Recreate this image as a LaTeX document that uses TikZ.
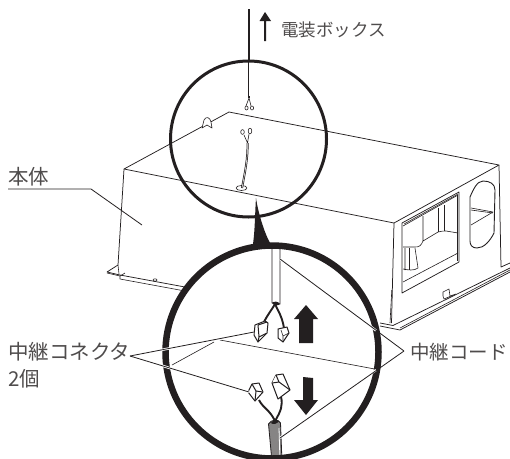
\documentclass[tikz,border=0pt]{standalone}
\usepackage{fontspec}
\setmainfont{Noto Sans CJK JP}[Scale=1]
\definecolor{ink}{HTML}{231F20}
\tikzset{
  edge/.style={draw=ink,line width=0.75pt,line join=round},
  fine/.style={draw=ink,line width=0.6pt,line join=round},
  lead/.style={draw=ink,line width=0.8pt},
  ring/.style={draw=ink,fill=none},
  plug/.style={draw=ink,fill=white,line width=1pt,line join=round},
  wire/.style={draw=ink,line width=1.9pt},
  lab/.style={anchor=west,inner sep=0pt,text=ink!80,font=\fontsize{20.5}{21}\selectfont},
  labs/.style={anchor=west,inner sep=0pt,text=ink!80,font=\fontsize{17.5}{18}\selectfont},
  solid arrow/.style={fill=ink,draw=none}
}
\begin{document}
\begin{tikzpicture}[x=1pt,y=-1pt]
\useasboundingbox (0,0) rectangle (510,458);
% box
\coordinate (apex) at (229,112);
\coordinate (rightc) at (499,165);
\coordinate (front) at (394,223);
\coordinate (leftc) at (124,169);
\draw[edge] (leftc) -- (apex) -- (rightc) -- (front) -- cycle;
\draw[edge] (leftc) -- (118,265) -- (107,272) -- (120,275) -- (185,287);
\draw[fine] (107,273) -- (120,276) -- (120,279) -- (185,291);
\draw[fine] (118,265) -- (119,274);
\draw[fine] (125,273) -- (120,276);
\draw[fine] (155,280) ellipse (2 and 1.2);
\draw[edge] (front) -- (391.5,323);
\draw[fine] (391.8,290) -- (390,323);
\draw[edge] (rightc) -- (501,267) -- (510,263);
\draw[edge] (380,323) -- (393,325.5) -- (510,268);
\draw[edge] (380,326) -- (400,330) -- (510,272);
\draw[fine] (400,328) -- (510,270);
% window
\draw[edge] (402,223) -- (459,192) -- (459,262) -- (402,293) -- cycle;
\draw[fine] (403,226) -- (458,195);
\draw[fine] (404,224) -- (458,194);
\draw[fine] (457,195) -- (457,261);
\draw[fine] (423,216) -- (423,241) -- (438,232) .. controls (441,231) and (444,231) .. (446,231) -- (458,233);
\draw[fine] (438,208) -- (438,232) (444,205) -- (444,231);
\draw[fine] (403,247) -- (415,247) .. controls (419,247) and (421,246) .. (423,241);
\draw[fine] (405,248) -- (405,270) (415,248) -- (418,268) .. controls (414,271) and (408,270) .. (403,269);
\draw[fine] (409,248) -- (409,270);
\draw[fine] (403,282) -- (458,253);
% oval
\draw[edge,line width=0.9pt] (483,181) .. controls (490,181) and (495,184) .. (495,190) -- (494,233)
  .. controls (490,241) and (484,248) .. (477,248) .. controls (472,248) and (470,245) .. (470,241) -- (470,197)
  .. controls (473,190) and (477,181) .. (483,181) -- cycle;
\draw[fine] (471,208) -- (493,212) -- (471,225);
\draw[fine] (471,210) -- (493,213);
% tab
\draw[fine] (443,296) -- (443,292) -- (449,289) -- (450,296) -- (456,294) -- (444,299) -- cycle;
% upper magnifier
\coordinate (tipu) at (256,198);
\draw[ink,line width=1.6pt] (249,9) -- (249,98);
\draw[white,line width=0.4pt] (249,62) -- (249,96);
\draw[fine] (249,98) -- (246,106) (249,98) -- (251,106);
\draw[fine] (246.5,108) circle (1.6 and 2);
\draw[fine] (252,108) circle (1.6 and 2);
\draw[fine,fill=white] (202,128) -- (204,120) .. controls (206,116) and (210,117) .. (211,122) -- (212,128) -- (207,125) -- cycle;
\draw[fine,fill=white] (241.5,188) ellipse (5.5 and 2.5);
\draw[ink,line width=2pt] (242,188) .. controls (245,172) and (248,158) .. (247.5,143);
\draw[white,line width=0.5pt] (242,188) .. controls (245,172) and (248,158) .. (247.5,143);
\draw[fine] (247.5,143) -- (244,135) (247.5,143) -- (249,134);
\draw[fine] (242.5,132) ellipse (1.8 and 2.4);
\draw[fine] (250,131) ellipse (1.8 and 2.8);
\node[ring,circle,line width=3pt,minimum size=156pt,inner sep=0pt] (upper) at (248.5,139) {};
% lower magnifier
\fill[white] (272,352) circle (105);
\path[solid arrow] (253,244) .. controls (255,230) and (255,212) .. (256,198) .. controls (258,212) and (264,232) .. (270,243) -- cycle;
\begin{scope}
\clip (272,352) circle (105);
\draw[fine] (172,365) -- (214,342);
\draw[fine] (220,340) -- (380,370);
% top cord
\draw[edge,fill=white] (272,240) -- (272,303) -- (280,304) -- (280,240);
\fill[ink] (272,303) .. controls (274,306) and (278,306) .. (280,304) .. controls (278,301) and (274,301) .. (272,303);
\draw[wire] (275,304) .. controls (271,311) and (268,314) .. (264,322);
\draw[wire] (275,304) .. controls (278,311) and (282,316) .. (284,328);
\draw[plug] (255,325) -- (265,321) -- (268,323) -- (267,333) -- (258,342) -- (254,335) -- cycle;
\draw[plug] (258,325) -- (259,337) -- (267,333) (259,337) -- (258,342) (258,325) -- (267,322);
\draw[plug] (278,329) -- (287,327) -- (289,333) -- (283,342) -- (278,338) -- cycle;
\draw[fine] (281,330) -- (283,336) -- (289,333) (283,336) -- (283,342);
% bottom cord
\draw[draw=ink,fill=ink!55,line width=0.8pt] (268.5,424) -- (272,462) -- (282,462) -- (280.5,423) .. controls (279,419) and (271,419) .. (268.5,424) -- cycle;
\draw[white,line width=0.8pt] (279,428) -- (280,462);
\fill[ink] (271,423) .. controls (273,419.5) and (277,419.5) .. (279,421) .. controls (277,424) and (273,425) .. (271,423);
\draw[wire] (275,421) .. controls (270,410) and (263,408) .. (259,400);
\draw[wire] (275,421) .. controls (281,411) and (283,405) .. (281,397);
\draw[plug] (248,392) -- (252,384) -- (259,383) -- (263,392) -- (255,401) -- cycle;
\draw[plug] (252,384) -- (256,391) -- (263,392) (256,391) -- (255,401);
\draw[plug] (272,383) -- (276,375) -- (283,374) -- (290,390) -- (278,399) -- cycle;
\draw[plug] (276,375) -- (279,382) -- (272,383) (279,382) -- (290,390);
\end{scope}
% arrows
\path[solid arrow] (306,305) -- (318,319) -- (313,319) -- (313,343) -- (299,343) -- (299,319) -- (294,319) -- cycle;
\path[solid arrow] (306,415) -- (318,400) -- (313,400) -- (313,378) -- (303,377) -- (303,400) -- (294,400) -- cycle;
\path[solid arrow] (265,12) -- (271,21) -- (266,21) -- (266,41) -- (264,41) -- (264,21) -- (259.5,21) -- cycle;
% labels
\node[labs] (denso) at (281,30) {電装ボックス};
\node[lab] (hontai) at (8,177) {本体};
\node[lab] (conn) at (8,352) {中継コネクタ};
\node[lab] (ni) at (8,379) {2個};
\node[lab,anchor=east,font=\fontsize{19.5}{20}\selectfont] (cord) at (508,352) {中継コード};
% leaders
\coordinate (hb) at (8,189);
\coordinate (hk) at (91,189);
\coordinate (ht) at (142,225);
\draw[lead] (hb) -- (hk) -- (ht);
\coordinate (ca) at (130,356);
\coordinate (c1) at (254,332);
\coordinate (c2) at (249,392);
\coordinate (da) at (404,351);
\coordinate (d1) at (280,259);
\coordinate (d2) at (280,438);
\node[ring,circle,line width=6.5pt,minimum size=213pt,inner sep=0pt] (lower) at (272,352) {};
\draw[white,line width=2.4pt] (ca) -- (c1) (ca) -- (c2);
\draw[lead] (ca) -- (c1);
\draw[lead] (ca) -- (c2);
\draw[white,line width=2.4pt] (376,330.5) -- (d1) (376,370) -- (d2);
\draw[lead] (da) -- (d1);
\draw[lead] (da) -- (d2);
\end{tikzpicture}
\end{document}
